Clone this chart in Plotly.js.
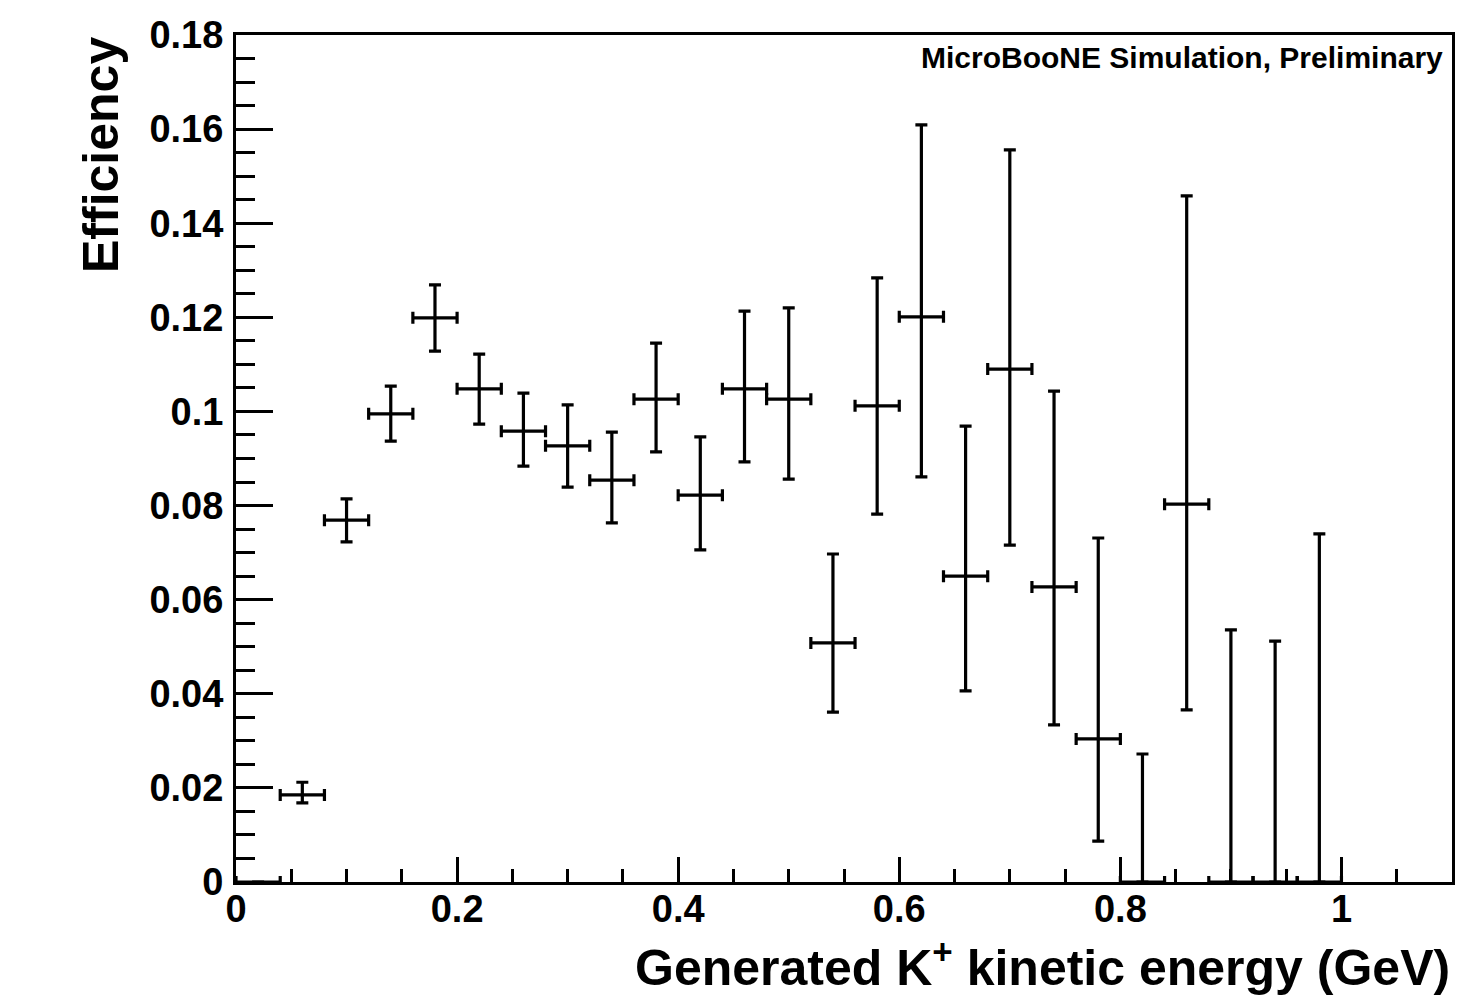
<!DOCTYPE html>
<html>
<head>
<meta charset="utf-8">
<script src="https://cdn.plot.ly/plotly-3.0.1.min.js"></script>
<style>html,body{margin:0;padding:0;background:#fff;}#chart{width:1467px;height:1000px;}</style>
</head>
<body>
<div id="chart"></div>
<script>
// Bin centres (GeV)
const energy = [0.02, 0.06, 0.10, 0.14, 0.18, 0.22, 0.26, 0.30, 0.34, 0.38, 0.42, 0.46, 0.50,
                0.54, 0.58, 0.62, 0.66, 0.70, 0.74, 0.78, 0.82, 0.86, 0.90, 0.94, 0.98];
// Efficiency values
const efficiency = [0, 0.0185, 0.0769, 0.0995, 0.1199, 0.1048, 0.0958, 0.0927, 0.0854, 0.1026, 0.0822, 0.1048, 0.1026,
                    0.0508, 0.1012, 0.1201, 0.0650, 0.1090, 0.0627, 0.0304, 0, 0.0803, 0, 0, 0];
// Upper and lower errors
const errUp = [0, 0.0027, 0.0045, 0.0059, 0.0070, 0.0074, 0.0081, 0.0087, 0.0102, 0.0119, 0.0124, 0.0165, 0.0194,
               0.0189, 0.0272, 0.0408, 0.0319, 0.0466, 0.0416, 0.0427, 0.0272, 0.0655, 0.0536, 0.0512, 0.0740];
const errDown = [0, 0.0017, 0.0046, 0.0058, 0.0071, 0.0075, 0.0074, 0.0088, 0.0091, 0.0112, 0.0116, 0.0155, 0.0170,
                 0.0147, 0.0230, 0.0340, 0.0244, 0.0374, 0.0293, 0.0217, 0, 0.0437, 0, 0, 0];
const binHalfWidth = 0.02;

const xTickVals = [0, 0.2, 0.4, 0.6, 0.8, 1];
const xTickText = ["0", "0.2", "0.4", "0.6", "0.8", "1"];
const yTickVals = [0, 0.02, 0.04, 0.06, 0.08, 0.1, 0.12, 0.14, 0.16, 0.18];
const yTickText = ["0", "0.02", "0.04", "0.06", "0.08", "0.1", "0.12", "0.14", "0.16", "0.18"];

const FONT = "Liberation Sans, Arial, Helvetica, sans-serif";

const trace = {
  x: energy,
  y: efficiency,
  type: 'scatter',
  mode: 'markers',
  marker: {size: 1, color: 'black', opacity: 0},
  error_y: {type: 'data', symmetric: false, array: errUp, arrayminus: errDown,
            color: 'black', thickness: 3.2, width: 6},
  error_x: {type: 'constant', value: binHalfWidth, color: 'black', thickness: 3.2, width: 6},
  hoverinfo: 'x+y',
  cliponaxis: true
};

const layout = {
  width: 1467, height: 1000,
  margin: {l: 236, r: 15, t: 35, b: 118, pad: 0},
  paper_bgcolor: 'white', plot_bgcolor: 'white',
  showlegend: false,
  font: {family: FONT, color: 'black', weight: 'bold'},
  xaxis: {
    range: [0, 1.1], fixedrange: true,
    tickmode: 'array', tickvals: xTickVals, ticktext: xTickText,
    ticks: 'inside', ticklen: 25, tickwidth: 3, tickcolor: 'black',
    minor: {dtick: 0.05, tick0: 0, ticks: 'inside', ticklen: 13, tickwidth: 3, tickcolor: 'black', showgrid: false},
    showline: true, linewidth: 3, linecolor: 'black', mirror: true,
    showgrid: false, zeroline: false,
    tickfont: {family: FONT, size: 38, color: 'black', weight: 'bold'},
    ticklabelstandoff: -9
  },
  yaxis: {
    range: [0, 0.18], fixedrange: true,
    tickmode: 'array', tickvals: yTickVals, ticktext: yTickText,
    ticks: 'inside', ticklen: 37, tickwidth: 3, tickcolor: 'black',
    minor: {dtick: 0.005, tick0: 0, ticks: 'inside', ticklen: 19, tickwidth: 3, tickcolor: 'black', showgrid: false},
    showline: true, linewidth: 3, linecolor: 'black', mirror: true,
    showgrid: false, zeroline: false,
    tickfont: {family: FONT, size: 38, color: 'black', weight: 'bold'},
    ticklabelstandoff: 2
  },
  annotations: [
    {text: 'Generated K<sup>+</sup> kinetic energy (GeV)', xref: 'paper', yref: 'paper',
     x: 1, y: 0, xanchor: 'right', yanchor: 'top', yshift: -48, showarrow: false,
     font: {family: FONT, size: 50, color: 'black', weight: 'bold'}},
    {text: 'Efficiency', xref: 'paper', yref: 'paper', textangle: -90,
     x: 0, y: 1, xanchor: 'right', yanchor: 'top', xshift: -105, showarrow: false,
     font: {family: FONT, size: 50, color: 'black', weight: 'bold'}},
    {text: 'MicroBooNE Simulation, Preliminary', xref: 'paper', yref: 'paper',
     x: 1, y: 1, xanchor: 'right', yanchor: 'top', xshift: -7, yshift: -4, showarrow: false,
     font: {family: FONT, size: 30, color: 'black', weight: 'bold'}}
  ]
};

Plotly.newPlot('chart', [trace], layout, {displayModeBar: false, staticPlot: true});
</script>
</body>
</html>
